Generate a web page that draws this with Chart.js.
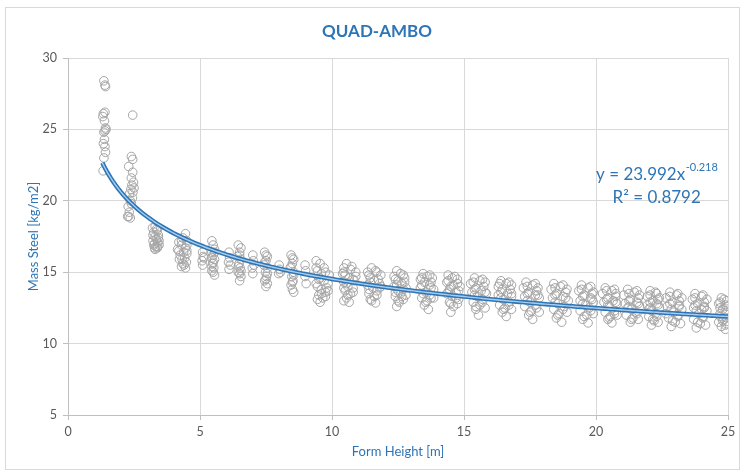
<!DOCTYPE html>
<html>
<head>
<meta charset="utf-8">
<style>
  html, body { margin: 0; padding: 0; background: #ffffff; }
  #wrap { width: 742px; height: 475px; }
</style>
<script src="https://cdn.jsdelivr.net/npm/chart.js@4.4.1/dist/chart.umd.min.js"></script>
</head>
<body>
<div id="wrap"><canvas id="chart" width="742" height="475"></canvas></div>
<script>
// Measured mass of steel per form height, one array of [height, mass] pairs per height band
const band01 = [[1.36,28.4],[1.40,28.1],[1.42,28.0],[1.34,26.1],[1.40,26.2],[1.32,25.9],[1.38,25.6],[1.42,25.1],[1.40,24.9],[1.44,25.0],[1.36,24.8],[1.38,24.3],[1.34,24.0],[1.40,23.8],[1.42,23.4],[1.36,23.0],[1.33,22.1]];
const band02 = [[2.45,26.0],[2.40,23.1],[2.45,22.9],[2.30,22.4],[2.45,22.0],[2.40,21.6],[2.48,21.3],[2.42,21.1],[2.50,20.9],[2.38,20.8],[2.46,20.6],[2.33,20.5],[2.44,20.2],[2.36,20.0],[2.40,19.8],[2.28,19.6],[2.32,19.2],[2.26,18.9],[2.36,18.8],[2.30,18.9]];
const band03 = [[3.20,18.1],[3.30,18.2],[3.38,17.9],[3.25,17.8],[3.42,17.6],[3.30,17.5],[3.35,17.3],[3.22,17.2],[3.40,17.1],[3.28,17.0],[3.45,16.9],[3.33,16.8],[3.38,16.7],[3.25,16.9],[3.42,17.4],[3.30,16.6],
  [3.35,18.0],[3.22,17.6],[3.45,17.2],[3.28,16.7],[3.40,16.8]];
const band04 = [[4.45,17.7],[4.35,17.4],[4.20,17.1],[4.50,17.2],[4.30,16.9],[4.45,16.7],[4.15,16.6],[4.38,16.4],[4.50,16.3],[4.25,16.2],[4.42,16.0],[4.32,15.9],[4.48,15.7],[4.40,15.5],[4.45,15.3],[4.20,16.5],
  [4.30,17.2],[4.50,16.9],[4.22,15.9],[4.35,15.6],[4.50,16.5],[4.30,15.4]];
const band05 = [[5.10,16.4],[5.12,16.1],[5.08,15.8],[5.10,15.5],[5.45,17.2],[5.50,16.9],[5.55,16.6],[5.45,16.4],[5.50,16.2],[5.55,15.9],[5.48,15.6],[5.52,15.3],[5.50,15.0],[5.55,14.8],[5.45,15.4],
  [5.45,16.0],[5.55,16.4],[5.50,15.7],[5.45,15.1],[5.15,16.0]];
const band06 = [[6.10,16.4],[6.12,16.0],[6.08,15.7],[6.10,15.2],[6.45,16.9],[6.55,16.7],[6.50,16.4],[6.42,16.1],[6.55,15.9],[6.48,15.6],[6.52,15.3],[6.45,15.0],[6.55,14.7],[6.50,14.4],
  [6.50,16.2],[6.45,15.4],[6.55,15.1],[6.50,14.9],[6.15,15.5]];
const band07 = [[7.00,16.2],[7.02,15.8],[6.98,15.3],[7.00,14.9],[7.45,16.4],[7.55,16.1],[7.50,15.8],[7.42,15.5],[7.55,15.3],[7.48,15.0],[7.52,14.7],[7.45,14.4],[7.50,14.0],[7.55,14.2],
  [7.50,16.2],[7.45,15.7],[7.55,14.9],[7.50,14.5],[7.05,15.5]];
const band08 = [[8.00,15.5],[8.02,15.2],[7.98,14.9],[8.45,16.2],[8.55,15.9],[8.50,15.6],[8.42,15.3],[8.55,15.0],[8.48,14.7],[8.52,14.4],[8.45,14.1],[8.50,13.8],[8.55,13.6],
  [8.50,16.0],[8.45,15.4],[8.55,14.8],[8.50,14.3],[8.05,15.0]];
const band09 = [[8.98,15.5],[9.00,15.1],[8.98,14.7],[9.02,14.2],[9.40,15.8],[9.55,15.6],[9.70,15.3],[9.45,15.1],[9.60,14.9],[9.90,14.8],[9.50,14.5],[9.70,14.4],[9.85,14.2],[9.45,14.0],[9.60,13.8],[9.75,13.6],[9.50,13.4],[9.65,13.2],[9.55,12.9],[9.85,13.7],
  [9.40,15.3],[9.75,15.0],[9.55,14.6],[9.40,14.2],[9.80,13.9],[9.60,13.5],[9.45,13.1],[9.75,13.3]];
const band10 = [[10.55,15.6],[10.45,15.3],[10.70,15.2],[10.90,15.0],[10.50,14.8],[10.65,14.6],[10.85,14.4],[10.45,14.3],[10.60,14.0],[10.80,13.9],[10.50,13.7],[10.70,13.5],[10.55,13.2],[10.65,12.9],[10.90,14.7],[10.40,14.9],
  [10.75,15.4],[10.45,15.0],[10.80,14.5],[10.55,14.2],[10.45,13.9],[10.80,13.6],[10.60,13.4],[10.45,13.0]];
const band11 = [[11.50,15.3],[11.35,15.0],[11.65,15.1],[11.85,14.8],[11.45,14.6],[11.60,14.4],[11.80,14.2],[11.35,14.1],[11.55,13.9],[11.70,13.7],[11.40,13.5],[11.60,13.3],[11.50,13.0],[11.65,12.85],[11.85,14.0],
  [11.70,15.0],[11.40,14.8],[11.75,14.5],[11.45,14.3],[11.80,13.9],[11.40,13.8],[11.70,13.4],[11.45,13.1]];
const band12 = [[12.45,15.1],[12.60,14.9],[12.35,14.7],[12.75,14.6],[12.50,14.4],[12.65,14.2],[12.35,14.0],[12.80,13.9],[12.50,13.7],[12.60,13.5],[12.40,13.3],[12.70,13.1],[12.55,12.9],[12.45,12.6],[12.80,13.4],
  [12.70,14.8],[12.40,14.5],[12.75,14.3],[12.45,14.1],[12.70,13.8],[12.40,13.6],[12.65,13.3],[12.50,13.0]];
const band13 = [[13.45,14.9],[13.60,14.7],[13.35,14.5],[13.80,14.6],[13.50,14.3],[13.70,14.1],[13.35,13.9],[13.85,13.8],[13.55,13.6],[13.70,13.4],[13.40,13.2],[13.60,13.0],[13.50,12.7],[13.65,12.4],[13.85,13.2],
  [13.70,14.8],[13.40,14.6],[13.75,14.3],[13.40,14.1],[13.75,13.9],[13.45,13.5],[13.75,13.2],[13.55,12.9]];
const band14 = [[14.40,14.8],[14.55,14.6],[14.75,14.5],[14.35,14.3],[14.60,14.1],[14.85,14.0],[14.45,13.8],[14.70,13.6],[14.35,13.5],[14.55,13.3],[14.80,13.1],[14.45,12.9],[14.60,12.6],[14.50,12.2],[14.75,12.8],
  [14.65,14.7],[14.40,14.4],[14.75,14.2],[14.50,14.0],[14.80,13.7],[14.40,13.6],[14.70,13.2],[14.50,12.8]];
const band15 = [[15.40,14.6],[15.60,14.4],[15.25,14.2],[15.80,14.3],[15.45,13.9],[15.65,13.7],[15.30,13.6],[15.85,13.5],[15.50,13.3],[15.70,13.1],[15.35,12.9],[15.60,12.7],[15.45,12.4],[15.55,12.0],[15.80,12.5],
  [15.70,14.5],[15.35,14.3],[15.75,14.0],[15.40,13.8],[15.80,13.6],[15.40,13.4],[15.70,12.9],[15.45,12.6]];
const band16 = [[16.40,14.4],[16.60,14.2],[16.30,14.0],[16.80,14.1],[16.45,13.8],[16.65,13.5],[16.30,13.4],[16.80,13.3],[16.50,13.1],[16.70,12.9],[16.35,12.7],[16.55,12.5],[16.45,12.2],[16.60,11.9],[16.80,12.4],
  [16.70,14.3],[16.35,14.2],[16.75,13.8],[16.40,13.6],[16.80,13.5],[16.40,13.2],[16.70,12.7],[16.50,12.4]];
const band17 = [[17.35,14.3],[17.60,14.1],[17.25,13.9],[17.80,13.9],[17.45,13.6],[17.70,13.4],[17.30,13.3],[17.85,13.2],[17.50,12.9],[17.70,12.7],[17.30,12.6],[17.55,12.3],[17.45,12.0],[17.60,11.7],[17.85,12.2],
  [17.70,14.2],[17.40,14.0],[17.75,13.7],[17.40,13.5],[17.80,13.4],[17.40,13.0],[17.75,12.5],[17.50,12.2]];
const band18 = [[18.40,14.2],[18.65,14.0],[18.30,13.8],[18.90,13.8],[18.50,13.5],[18.75,13.3],[18.35,13.2],[18.95,13.0],[18.55,12.8],[18.80,12.6],[18.40,12.4],[18.60,12.1],[18.50,11.8],[18.70,11.5],[18.90,12.2],
  [18.75,14.1],[18.45,13.9],[18.85,13.6],[18.45,13.4],[18.85,13.2],[18.45,12.9],[18.75,12.4],[18.55,12.0]];
const band19 = [[19.45,14.1],[19.70,13.9],[19.35,13.7],[19.90,13.6],[19.55,13.4],[19.80,13.2],[19.40,13.0],[19.90,12.9],[19.60,12.7],[19.75,12.5],[19.40,12.3],[19.65,12.0],[19.50,11.7],[19.70,11.45],[19.90,12.1],
  [19.80,14.0],[19.45,13.8],[19.85,13.5],[19.50,13.3],[19.85,13.1],[19.50,12.8],[19.80,12.3],[19.55,11.9]];
const band20 = [[20.35,13.9],[20.60,13.7],[20.25,13.5],[20.75,13.5],[20.45,13.2],[20.65,13.0],[20.30,12.9],[20.80,12.8],[20.50,12.6],[20.70,12.3],[20.35,12.2],[20.55,11.9],[20.45,11.7],[20.60,11.45],[20.80,12.0],
  [20.70,13.8],[20.40,13.7],[20.75,13.3],[20.40,13.1],[20.75,12.9],[20.45,12.7],[20.70,12.1],[20.50,11.8]];
const band21 = [[21.20,13.8],[21.45,13.6],[21.05,13.4],[21.65,13.4],[21.30,13.1],[21.55,12.9],[21.10,12.8],[21.65,12.6],[21.35,12.4],[21.50,12.2],[21.15,12.0],[21.40,11.8],[21.30,11.5],[21.60,11.7],[21.20,12.5],
  [21.55,13.7],[21.25,13.5],[21.60,13.2],[21.25,13.0],[21.60,12.8],[21.25,12.6],[21.55,12.1],[21.35,11.7]];
const band22 = [[22.05,13.7],[22.30,13.5],[21.95,13.3],[22.40,13.2],[22.15,13.0],[22.30,12.8],[21.95,12.7],[22.40,12.5],[22.10,12.3],[22.25,12.1],[22.00,11.9],[22.20,11.6],[22.10,11.3],[22.35,11.5],[22.00,12.4],
  [22.25,13.6],[22.05,13.4],[22.35,13.1],[22.05,12.9],[22.35,12.7],[22.05,12.5],[22.30,11.9],[22.15,11.7]];
const band23 = [[22.80,13.6],[23.05,13.4],[22.65,13.2],[23.25,13.2],[22.90,12.9],[23.15,12.7],[22.70,12.6],[23.25,12.4],[22.95,12.2],[23.10,12.0],[22.75,11.8],[23.00,11.5],[22.85,11.2],[23.20,11.4],[22.65,12.1],
  [23.10,13.5],[22.80,13.3],[23.15,13.0],[22.80,12.8],[23.15,12.6],[22.85,12.4],[23.10,11.9],[22.90,11.6]];
const band24 = [[23.75,13.5],[24.00,13.3],[23.65,13.1],[24.20,13.1],[23.85,12.8],[24.10,12.6],[23.70,12.5],[24.20,12.3],[23.90,12.1],[24.05,11.9],[23.70,11.7],[23.95,11.4],[23.80,11.1],[24.15,11.3],[24.00,12.4],
  [24.05,13.4],[23.75,13.2],[24.10,12.9],[23.75,12.7],[24.10,12.5],[23.80,12.3],[24.05,11.8],[23.85,11.5]];
const band25 = [[24.75,13.2],[24.95,13.0],[24.65,12.8],[24.95,12.6],[24.80,12.4],[24.95,12.2],[24.70,12.1],[24.95,11.8],[24.80,11.6],[24.95,11.4],[24.75,11.2],[24.90,11.0],[24.65,11.5],
  [24.85,13.1],[24.70,12.9],[24.90,12.7],[24.70,12.5],[24.90,12.3],[24.70,11.9],[24.85,11.7],[24.90,11.3]];

// Power trendline y = a * x^b and its fit quality
const trendA = 23.992;
const trendB = -0.218;
const trendR2 = 0.8792;
const trendFrom = 1.3;
const trendTo = 25;

// Axis ticks
const xTicks = [0, 5, 10, 15, 20, 25];
const yTicks = [5, 10, 15, 20, 25, 30];

const allBands = [band01, band02, band03, band04, band05, band06, band07, band08, band09, band10,
  band11, band12, band13, band14, band15, band16, band17, band18, band19, band20,
  band21, band22, band23, band24, band25];
const scatterPoints = allBands.flat().map(([x, y]) => ({ x, y }));

const trendPoints = [];
for (let i = 0; i <= 237; i++) {
  const x = trendFrom + (trendTo - trendFrom) * i / 237;
  trendPoints.push({ x, y: trendA * Math.pow(x, trendB) });
}

const FONT = "Lato, 'Open Sans', 'Liberation Sans', sans-serif";
const BLUE = '#2e75b6';

// Outer frame of the chart
const framePlugin = {
  id: 'frame',
  beforeDraw(chart) {
    const ctx = chart.ctx;
    ctx.save();
    ctx.fillStyle = '#ffffff';
    ctx.fillRect(0, 0, chart.width, chart.height);
    ctx.strokeStyle = '#d9d9d9';
    ctx.lineWidth = 1;
    ctx.strokeRect(5.5, 7.5, 734, 462);
    ctx.restore();
  }
};

// Trendline equation and R² label
const equationPlugin = {
  id: 'equation',
  afterDatasetsDraw(chart) {
    const { ctx, scales } = chart;
    const cx = scales.x.getPixelForValue(22.3);
    const y1 = scales.y.getPixelForValue(21.85);
    const y2 = scales.y.getPixelForValue(20.25);
    ctx.save();
    ctx.fillStyle = BLUE;
    ctx.textBaseline = 'middle';
    const mainFont = '17px ' + FONT;
    const supFont = '11px ' + FONT;
    const main = 'y = ' + trendA.toFixed(3) + 'x';
    const sup = trendB.toFixed(3);
    ctx.font = mainFont;
    const wMain = ctx.measureText(main).width;
    ctx.font = supFont;
    const wSup = ctx.measureText(sup).width;
    const left = cx - (wMain + wSup) / 2;
    ctx.font = mainFont;
    ctx.textAlign = 'left';
    ctx.fillText(main, left, y1);
    ctx.font = supFont;
    ctx.fillText(sup, left + wMain + 0.5, y1 - 6.5);
    ctx.font = mainFont;
    ctx.textAlign = 'center';
    ctx.fillText('R² = ' + trendR2.toFixed(4), cx, y2);
    ctx.restore();
  }
};

new Chart(document.getElementById('chart'), {
  type: 'scatter',
  data: {
    datasets: [
      {
        label: 'Mass Steel',
        data: scatterPoints,
        pointStyle: 'circle',
        pointRadius: 4.3,
        pointBorderWidth: 1,
        pointBorderColor: '#a6a6a6',
        pointBackgroundColor: 'rgba(255,255,255,0)',
        order: 3
      },
      {
        label: 'Power trend',
        type: 'line',
        data: trendPoints,
        borderColor: '#2e75b6',
        borderWidth: 4.5,
        pointRadius: 0,
        fill: false,
        tension: 0,
        order: 2
      },
      {
        label: 'Power trend core',
        type: 'line',
        data: trendPoints,
        borderColor: '#a9cdee',
        borderWidth: 1.4,
        pointRadius: 0,
        fill: false,
        tension: 0,
        order: 1
      }
    ]
  },
  options: {
    responsive: false,
    devicePixelRatio: 1,
    animation: false,
    layout: { padding: { left: 26, right: 14, top: 0, bottom: 8 } },
    plugins: {
      legend: { display: false },
      tooltip: { enabled: false },
      title: {
        display: true,
        text: 'QUAD-AMBO',
        color: BLUE,
        font: { family: FONT, size: 17, weight: 'bold' },
        padding: { top: 21, bottom: 16.6 }
      }
    },
    scales: {
      x: {
        type: 'linear',
        min: 0,
        max: 25,
        afterBuildTicks(scale) { scale.ticks = xTicks.map(v => ({ value: v })); },
        afterFit(scale) { scale.height = 52; },
        ticks: { color: '#595959', font: { family: FONT, size: 12.5 }, padding: 4 },
        grid: { color: '#d9d9d9', lineWidth: 1, tickColor: '#bfbfbf', tickLength: 5 },
        border: { color: '#bfbfbf' },
        title: {
          display: true,
          text: 'Form Height [m]',
          color: BLUE,
          font: { family: FONT, size: 13 },
          padding: { top: 0, bottom: 7 }
        }
      },
      y: {
        type: 'linear',
        min: 5,
        max: 30,
        afterBuildTicks(scale) { scale.ticks = yTicks.map(v => ({ value: v })); },
        afterFit(scale) { scale.width = 42; },
        ticks: { color: '#595959', font: { family: FONT, size: 12.5 }, padding: 6 },
        grid: { color: '#d9d9d9', lineWidth: 1, tickColor: '#bfbfbf', tickLength: 5 },
        border: { color: '#bfbfbf' },
        title: {
          display: true,
          text: 'Mass Steel [kg/m2]',
          color: BLUE,
          font: { family: FONT, size: 13 },
          padding: { top: 0, bottom: 0 }
        }
      }
    }
  },
  plugins: [framePlugin, equationPlugin]
});
</script>
</body>
</html>
